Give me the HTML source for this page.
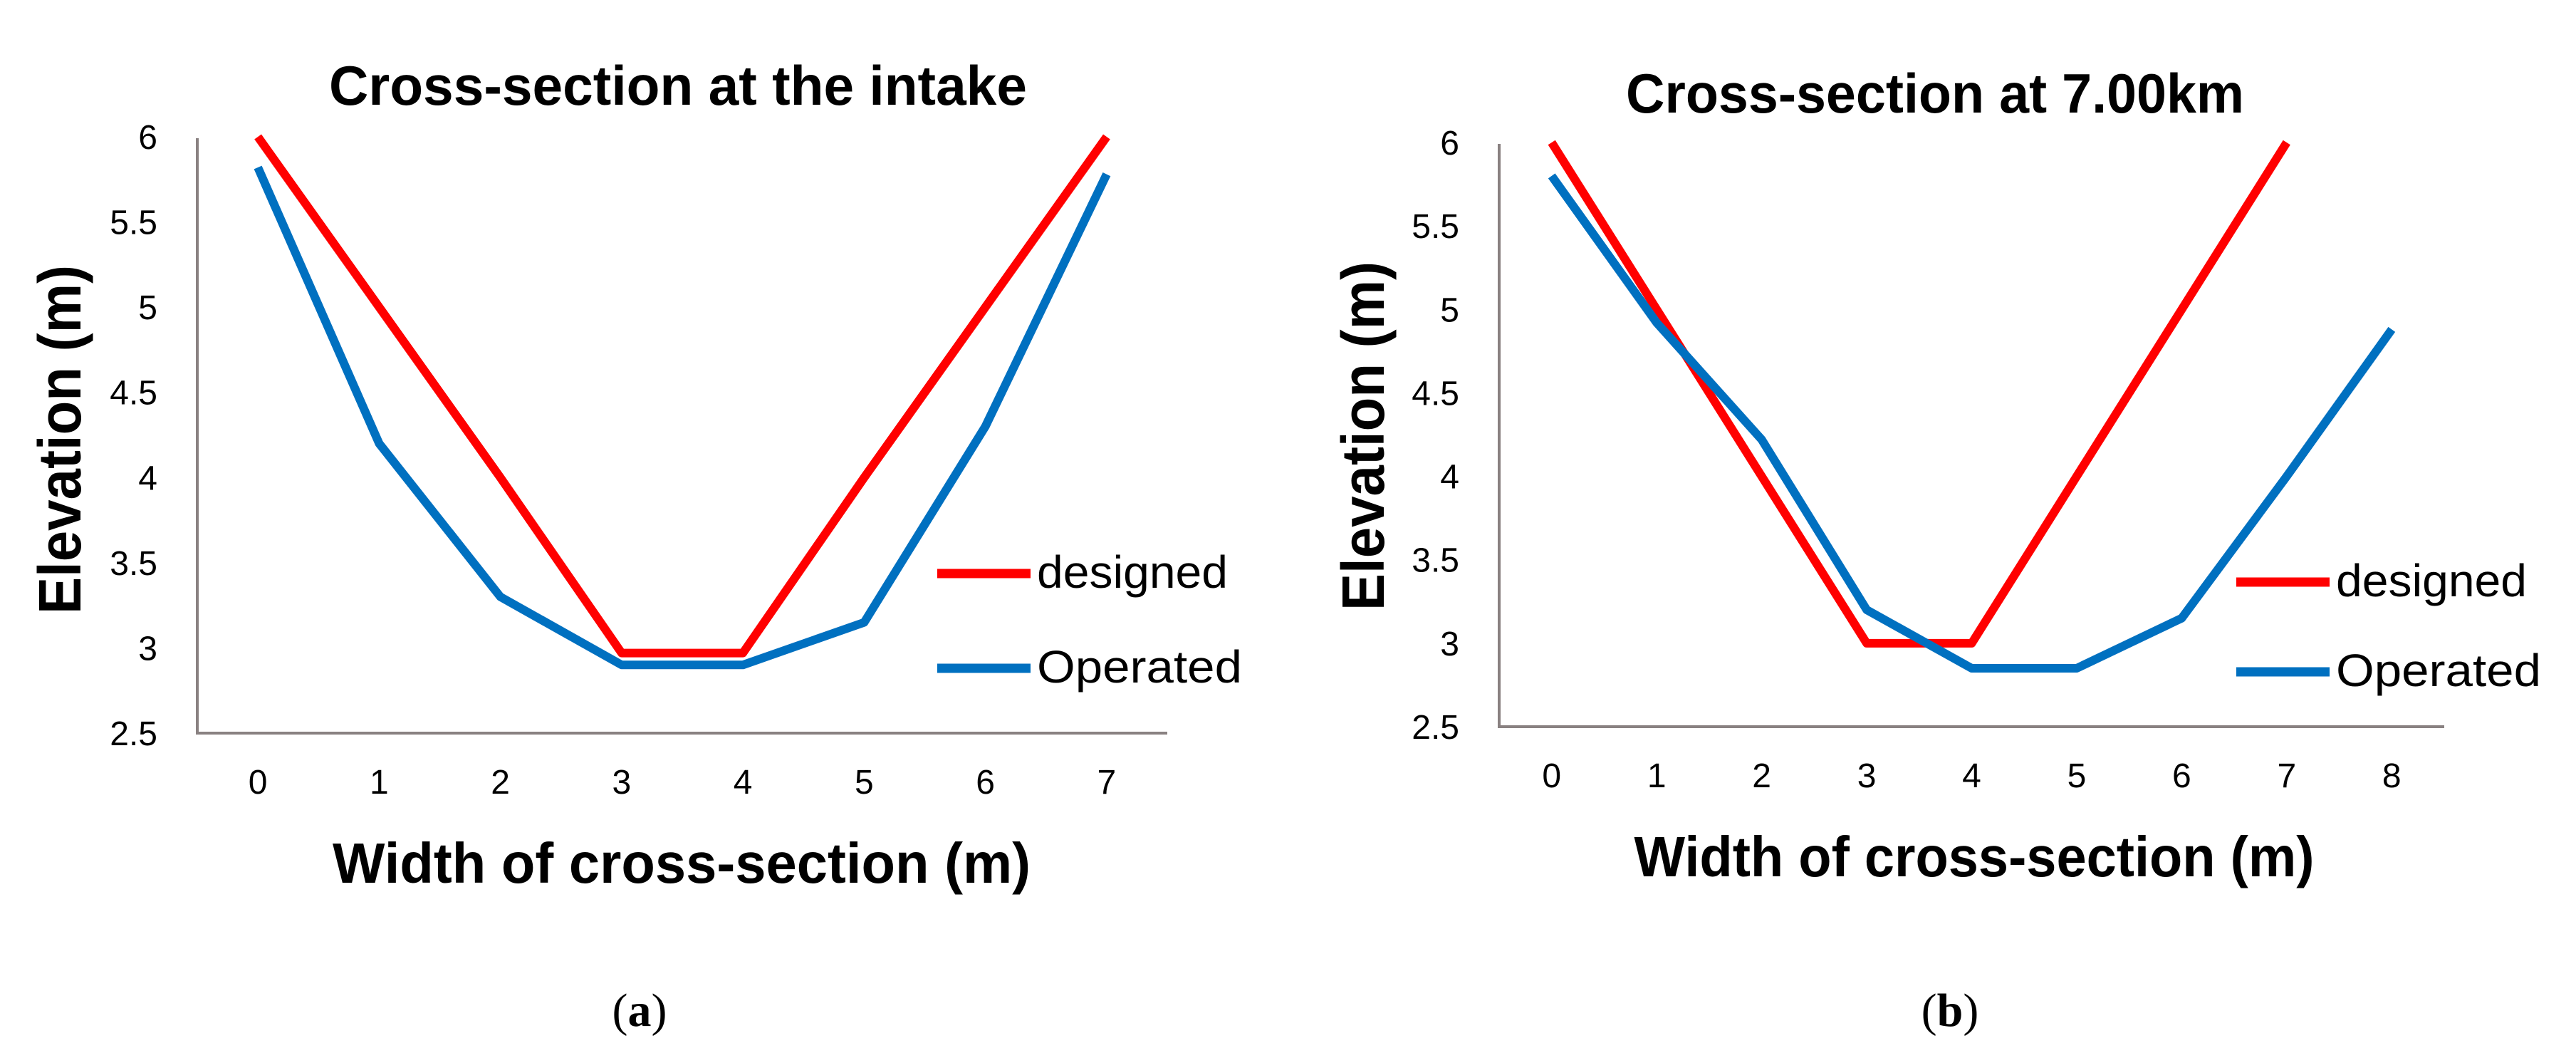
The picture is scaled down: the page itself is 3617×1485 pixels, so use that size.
<!DOCTYPE html>
<html><head><meta charset="utf-8">
<style>
html,body{margin:0;padding:0;background:#fff;}
svg{display:block;}
text{font-family:"Liberation Sans",sans-serif;fill:#000;}
</style></head>
<body>
<svg id="fig" width="3617" height="1485" viewBox="0 0 3617 1485" xmlns="http://www.w3.org/2000/svg"></svg>
<script>
// ---- Chart data ----
const catsA = ["0","1","2","3","4","5","6","7"];
const designedA = [6, 5, 4, 2.97, 2.97, 4, 5, 6];
const operatedA = [5.82, 4.2, 3.3, 2.9, 2.9, 3.15, 4.3, 5.78];

const catsB = ["0","1","2","3","4","5","6","7","8"];
const designedB = [6, 5, 4, 3, 3, 4, 5, 6, null];
const operatedB = [5.8, 4.92, 4.22, 3.2, 2.85, 2.85, 3.15, 4.0, 4.88];

const yTicks = [2.5, 3, 3.5, 4, 4.5, 5, 5.5, 6];
const yTickLabels = ["2.5","3","3.5","4","4.5","5","5.5","6"];

const NS = "http://www.w3.org/2000/svg";
const svg = document.getElementById("fig");

function mk(tag, attrs, parent) {
  const e = document.createElementNS(NS, tag);
  for (const k in attrs) e.setAttribute(k, attrs[k]);
  (parent || svg).appendChild(e);
  return e;
}

function drawChart(cfg) {
  const g = mk("g", {});
  
  
  const yMin = 2.5, yMax = 6;
  const y = v => cfg.bottom - (v - yMin) / (yMax - yMin) * (cfg.bottom - cfg.top);
  const step = (cfg.right - cfg.left) / cfg.cats.length;
  const x = i => cfg.left + step * (i + 0.5);

  const t = mk("text", {x: cfg.titleX, y: cfg.titleY, "font-size": 78, "font-weight": "bold", "text-anchor": "middle", textLength: cfg.titleW, lengthAdjust: "spacingAndGlyphs"}, g);
  t.textContent = cfg.title;
  
  

  const ya = mk("line", {x1: cfg.left, y1: cfg.top + 2, x2: cfg.left, y2: cfg.bottom, stroke: "#898181", "stroke-width": 4}, g);
  
  
  const xa = mk("line", {x1: cfg.left - 2, y1: cfg.bottom, x2: cfg.right, y2: cfg.bottom, stroke: "#898181", "stroke-width": 4}, g);
  
  

  yTicks.forEach((v, i) => {
    const tl = mk("text", {x: cfg.left - 56, y: y(v) + 17, "font-size": 48, "text-anchor": "end"}, g);
    tl.textContent = yTickLabels[i];
    
    
  });
  cfg.cats.forEach((c, i) => {
    const tl = mk("text", {x: x(i), y: cfg.bottom + 85, "font-size": 48, "text-anchor": "middle"}, g);
    tl.textContent = c;
    
    
  });

  const xt = mk("text", {x: cfg.xTitleX, y: cfg.bottom + 210, "font-size": 80, "font-weight": "bold", "text-anchor": "middle", textLength: cfg.xTitleW, lengthAdjust: "spacingAndGlyphs"}, g);
  xt.textContent = "Width of cross-section (m)";
  
  
  const yt = mk("text", {x: 0, y: 0, "font-size": 84, "font-weight": "bold", "text-anchor": "middle", textLength: 490, lengthAdjust: "spacingAndGlyphs", transform: `translate(${cfg.yTitleX},${cfg.yTitleY}) rotate(-90)`}, g);
  yt.textContent = "Elevation (m)";
  
  

  function series(vals, color, name) {
    const pts = [];
    vals.forEach((v, i) => { if (v !== null) pts.push(x(i).toFixed(1) + "," + y(v).toFixed(1)); });
    const p = mk("polyline", {points: pts.join(" "), fill: "none", stroke: color, "stroke-width": 12, "stroke-linejoin": "round"}, g);
    
    
  }
  series(cfg.designed, "#ff0000", "designed-line");
  series(cfg.operated, "#0070c0", "operated-line");

  const legItems = [["designed", "#ff0000", cfg.legY1], ["Operated", "#0070c0", cfg.legY2]];
  legItems.forEach(([lab, col, ly]) => {
    const lg = mk("g", {}, g);
    
    
    mk("line", {x1: cfg.legX, y1: ly, x2: cfg.legX + 131, y2: ly, stroke: col, "stroke-width": 13}, lg);
    const lt = mk("text", {x: cfg.legX + 140, y: ly + 20, "font-size": 64, textLength: lab === "designed" ? 268 : 288, lengthAdjust: "spacingAndGlyphs"}, lg);
    lt.textContent = lab;
  });

  const cap = mk("text", {x: cfg.capX, y: 1440, "font-size": 66, "text-anchor": "middle", style: "font-family:'Liberation Serif',serif"}, g);
  
  
  const s1 = mk("tspan", {}, cap); s1.textContent = "(";
  const s2 = mk("tspan", {"font-weight": "bold"}, cap); s2.textContent = cfg.cap;
  const s3 = mk("tspan", {}, cap); s3.textContent = ")";
}

drawChart({
  name: "chart-a", cats: catsA, designed: designedA, operated: operatedA,
  left: 277, right: 1639, top: 192, bottom: 1029,
  title: "Cross-section at the intake", titleX: 952, titleY: 147, titleW: 980,
  xTitleX: 957, xTitleW: 980, yTitleX: 113, yTitleY: 617,
  legX: 1316, legY1: 805, legY2: 938, capX: 898, cap: "a"
});
drawChart({
  name: "chart-b", cats: catsB, designed: designedB, operated: operatedB,
  left: 2105, right: 3432, top: 200, bottom: 1020,
  title: "Cross-section at 7.00km", titleX: 2717, titleY: 158, titleW: 868,
  xTitleX: 2772, xTitleW: 955, yTitleX: 1943, yTitleY: 612,
  legX: 3140, legY1: 817, legY2: 943, capX: 2738, cap: "b"
});
</script>
</body></html>
